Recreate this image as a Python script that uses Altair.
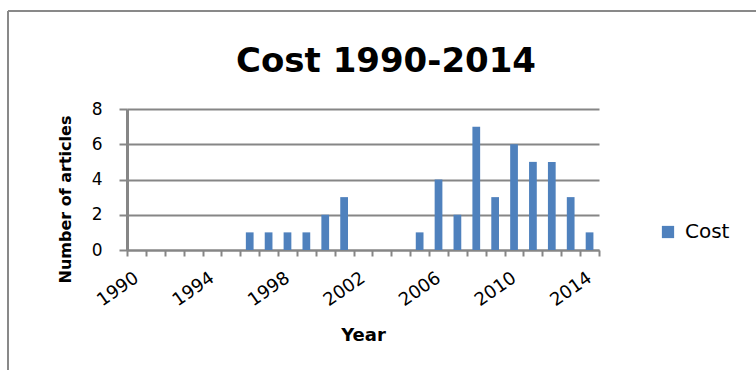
import altair as alt
import pandas as pd

# Number of articles on cost, per publication year
years = list(range(1990, 2015))
articles = [0, 0, 0, 0, 0, 0, 1, 1, 1, 1, 2, 3, 0, 0, 0, 1, 4, 2, 7, 3, 6, 5, 5, 3, 1]
series_name = "Cost"
labelled_years = [1990, 1994, 1998, 2002, 2006, 2010, 2014]
y_ticks = [0, 2, 4, 6, 8]

bar_color = "#4f81bd"
line_gray = "#868686"
font = "DejaVu Sans"

df = pd.DataFrame({"Year": [str(y) for y in years], "Articles": articles, "Series": series_name})

label_list = ",".join(f"'{y}'" for y in labelled_years)
label_expr = f"indexof([{label_list}], datum.label) >= 0 ? datum.label : ''"

bars = alt.Chart(df).mark_bar(width={"band": 0.41}).encode(
    x=alt.X(
        "Year:O",
        sort=[str(y) for y in years],
        scale=alt.Scale(paddingInner=0, paddingOuter=0),
        axis=alt.Axis(
            title="Year",
            titleFont=font,
            titleFontSize=18,
            titleFontWeight="bold",
            titleColor="#000000",
            titleBaseline="alphabetic",
            titleY=90,
            labelExpr=label_expr,
            labelAngle=-35,
            labelAlign="right",
            labelBaseline="middle",
            labelPadding=20,
            labelFont=font,
            labelFontSize=18,
            labelColor="#000000",
            labelOverlap=False,
            tickBand="extent",
            tickSize=6,
            tickWidth=2,
            tickColor=line_gray,
            domainColor=line_gray,
            domainWidth=2,
            grid=False,
        ),
    ),
    y=alt.Y(
        "Articles:Q",
        scale=alt.Scale(domain=[0, 8], nice=False),
        axis=alt.Axis(
            title="Number of articles",
            titleFont=font,
            titleFontSize=16,
            titleFontWeight="bold",
            titleColor="#000000",
            titleAngle=-90,
            titleAlign="center",
            titleBaseline="alphabetic",
            titleX=-57,
            titleY=90,
            values=y_ticks,
            labelFont=font,
            labelFontSize=17,
            labelColor="#000000",
            labelPadding=17,
            tickSize=8,
            tickWidth=2,
            tickColor=line_gray,
            domainColor=line_gray,
            domainWidth=3,
            gridColor=line_gray,
            gridWidth=2,
        ),
    ),
    color=alt.Color(
        "Series:N",
        scale=alt.Scale(domain=[series_name], range=[bar_color]),
        legend=alt.Legend(
            title=None,
            orient="none",
            legendX=531,
            legendY=113,
            padding=0,
            symbolType="square",
            symbolSize=150,
            symbolStrokeWidth=0,
            labelFont=font,
            labelFontSize=20,
            labelColor="#000000",
            labelOffset=7,
        ),
    ),
)

# Outer chart-area frame (top and left edges)
frame_df = pd.DataFrame({"edge": ["frame"]})
frame_top = alt.Chart(frame_df).mark_rule(color="#898989", strokeWidth=2).encode(
    x=alt.value(-119), x2=alt.value(640), y=alt.value(-98)
)
frame_left = alt.Chart(frame_df).mark_rule(color="#898989", strokeWidth=2).encode(
    x=alt.value(-119), y=alt.value(-98), y2=alt.value(270)
)

chart = (
    alt.layer(frame_top, frame_left, bars)
    .properties(
        width=472,
        height=141,
        autosize=alt.AutoSizeParams(type="none"),
        padding={"left": 127, "top": 109, "right": 157, "bottom": 120},
        title=alt.TitleParams(
            "Cost 1990-2014",
            font=font,
            fontSize=34,
            fontWeight="bold",
            color="#000000",
            anchor="middle",
            baseline="alphabetic",
            dx=23,
            offset=-96,
        ),
        background="#ffffff",
    )
    .configure_view(strokeWidth=0)
)

chart.save("out.html", embed_options={"renderer": "svg", "actions": False})
